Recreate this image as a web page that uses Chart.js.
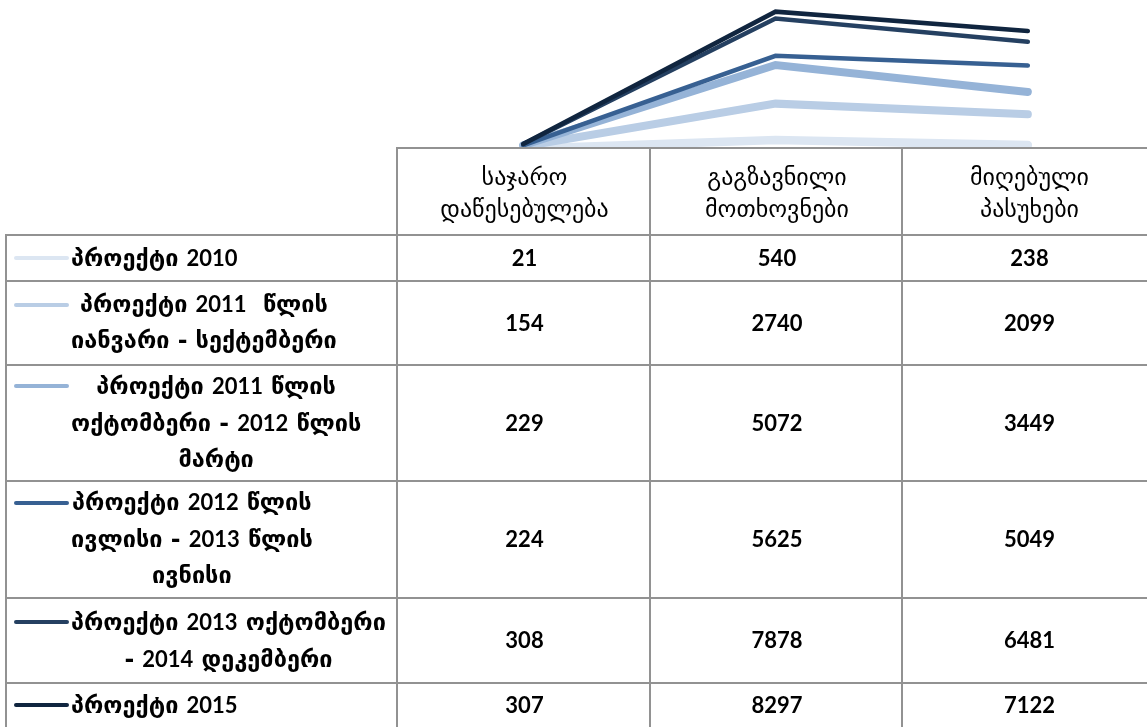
<!DOCTYPE html>
<html>
<head>
<meta charset="utf-8">
<script src="https://cdn.jsdelivr.net/npm/chart.js@4.4.1/dist/chart.umd.min.js"></script>
<style>
html,body{margin:0;padding:0;width:1147px;height:727px;overflow:hidden;background:#fff;}
#wrap{position:absolute;left:397px;top:0;width:757px;height:149px;}
.cell{position:absolute;box-sizing:border-box;border-left:2px solid #929292;border-top:2px solid #929292;
  display:flex;align-items:center;justify-content:center;color:#000;}
.hdr{font-family:"DejaVu Sans",sans-serif;font-size:24px;line-height:32px;text-align:center;flex-direction:column;}
.hdr div{white-space:nowrap;}
.num{font-family:"Lato","DejaVu Sans",sans-serif;font-weight:bold;font-size:22px;padding-bottom:4px;}
.lab{justify-content:flex-start;}
.sw{position:absolute;left:7px;width:55px;height:4px;border-radius:2px;}
.lt{position:absolute;left:64px;font-family:"DejaVu Sans",sans-serif;font-weight:bold;font-size:23.5px;
  text-align:center;}
.lt .ln{height:37px;line-height:37px;white-space:pre;}
.lt .d{font-family:"Lato",sans-serif;font-weight:bold;font-size:22px;}
</style>
</head>
<body>
<div id="wrap"><canvas id="c"></canvas></div>
<div id="tbl"></div>
<script>
const categories = ["საჯარო\nდაწესებულება", "გაგზავნილი\nმოთხოვნები", "მიღებული\nპასუხები"];
const seriesNames = [
  "პროექტი 2010",
  "პროექტი 2011  წლის\nიანვარი - სექტემბერი",
  "პროექტი 2011 წლის\nოქტომბერი - 2012 წლის\nმარტი",
  "პროექტი 2012 წლის\nივლისი - 2013 წლის\nივნისი",
  "პროექტი 2013 ოქტომბერი\n- 2014 დეკემბერი",
  "პროექტი 2015"
];
const project2010 = [21, 540, 238];
const project2011a = [154, 2740, 2099];
const project2011b = [229, 5072, 3449];
const project2012 = [224, 5625, 5049];
const project2013 = [308, 7878, 6481];
const project2015 = [307, 8297, 7122];
const seriesValues = [project2010, project2011a, project2011b, project2012, project2013, project2015];
const colors = ["#dce6f2", "#b9cde5", "#95b3d7", "#376092", "#254061", "#10253f"];
const widths = [8.5, 8, 8, 4.5, 4.5, 4.5];

const n = seriesValues.length;
new Chart(document.getElementById('c'), {
  type: 'line',
  data: {
    labels: categories,
    datasets: seriesValues.map((v, i) => ({
      label: seriesNames[i],
      data: v,
      borderColor: colors[i],
      backgroundColor: colors[i],
      borderWidth: widths[i],
      borderCapStyle: 'round',
      pointRadius: 0,
      tension: 0,
      order: n - i
    }))
  },
  options: {
    responsive: true,
    maintainAspectRatio: false,
    animation: false,
    layout: {padding: 0},
    plugins: {legend: {display: false}, tooltip: {enabled: false}},
    scales: {
      x: {type: 'category', offset: true, display: false},
      y: {min: 0, max: 9000, display: false}
    }
  }
});

// data table
const rowTops = [148, 235, 281, 365, 481, 598, 683, 727];
const colLefts = [6, 397, 650, 902, 1155];
const tbl = document.getElementById('tbl');
function cell(r, c, cls) {
  const d = document.createElement('div');
  d.className = 'cell ' + (cls || '');
  d.style.left = (colLefts[c] - 1) + 'px';
  d.style.top = (rowTops[r] - 1) + 'px';
  d.style.width = (colLefts[c + 1] - colLefts[c] + 2) + 'px';
  d.style.height = (rowTops[r + 1] - rowTops[r] + 2) + 'px';
  tbl.appendChild(d);
  return d;
}
function fillLine(el, text) {
  text.split(/([0-9]+)/).forEach(part => {
    if (!part) return;
    const s = document.createElement('span');
    if (/^[0-9]+$/.test(part)) s.className = 'd';
    s.textContent = part;
    el.appendChild(s);
  });
}
categories.forEach((t, j) => {
  const d = cell(0, j + 1, 'hdr');
  t.split('\n').forEach(line => {
    const l = document.createElement('div');
    l.textContent = line;
    d.appendChild(l);
  });
});
seriesNames.forEach((name, i) => {
  const d = cell(i + 1, 0, 'lab');
  const t = document.createElement('div');
  t.className = 'lt';
  name.split('\n').forEach(line => {
    const l = document.createElement('div');
    l.className = 'ln';
    fillLine(l, line);
    t.appendChild(l);
  });
  d.appendChild(t);
  const s = document.createElement('div');
  s.className = 'sw';
  s.style.background = colors[i];
  d.appendChild(s);
  const h = rowTops[i + 2] - rowTops[i + 1];
  const lines = name.split('\n').length;
  const top = (h - lines * 37) / 2 - 2;
  t.style.top = top + 'px';
  s.style.top = (top + 18.5 - 1) + 'px';
  seriesValues[i].forEach((v, j) => {
    const c = cell(i + 1, j + 1, 'num');
    c.textContent = String(v);
  });
});
</script>
</body>
</html>
